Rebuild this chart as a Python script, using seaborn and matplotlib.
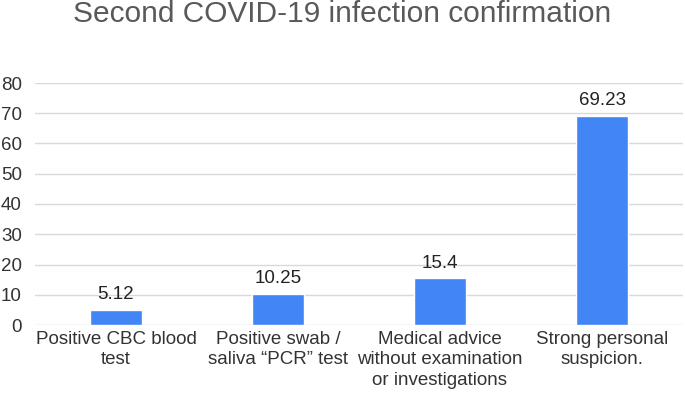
import matplotlib
matplotlib.use("Agg")
import matplotlib.pyplot as plt
import seaborn as sns
import pandas as pd

categories = ["Positive CBC blood\ntest", "Positive swab /\nsaliva \u201cPCR\u201d test",
              "Medical advice\nwithout examination\nor investigations", "Strong personal\nsuspicion."]
values = [5.12, 10.25, 15.4, 69.23]
value_labels = ["5.12", "10.25", "15.4", "69.23"]
yticks = [0, 10, 20, 30, 40, 50, 60, 70, 80]

sns.set_theme(style="white")
plt.rcParams['font.family'] = ['Liberation Sans', 'DejaVu Sans']

df = pd.DataFrame({"cat": categories, "val": values})
fig = plt.figure(figsize=(6.85, 3.98), dpi=100)
ax = fig.add_axes([35/685, 1 - 325/398, 648/685, (325 - 83)/398])
sns.barplot(data=df, x="cat", y="val", color="#4285F4", width=0.32, saturation=1, ax=ax)
ax.set_ylim(0, 80)
ax.set_xlim(-0.5, 3.5)
ax.set_yticks(yticks)
ax.set_yticklabels([str(t) for t in yticks], fontsize=13.5, color="#333333")
ax.tick_params(axis='y', length=0, pad=9.5)
ax.tick_params(axis='x', length=0, pad=4, labelsize=13.5, colors="#333333")
for t in ax.get_xticklabels():
    t.set_linespacing(1.3)
ax.grid(axis='y', color="#d9d9d9", linewidth=1)
ax.set_axisbelow(True)
for s in ax.spines.values():
    s.set_visible(False)
ax.set_xlabel("")
ax.set_ylabel("")
for i, (v, lab) in enumerate(zip(values, value_labels)):
    ax.text(i, v + 2.2, lab, ha="center", va="bottom", fontsize=13.5, color="#222222")
fig.text(0.5, 1 - 14/398, "Second COVID-19 infection confirmation", ha="center", va="center",
         fontsize=21.5, color="#595959")
fig.savefig("out.png", dpi=100)
